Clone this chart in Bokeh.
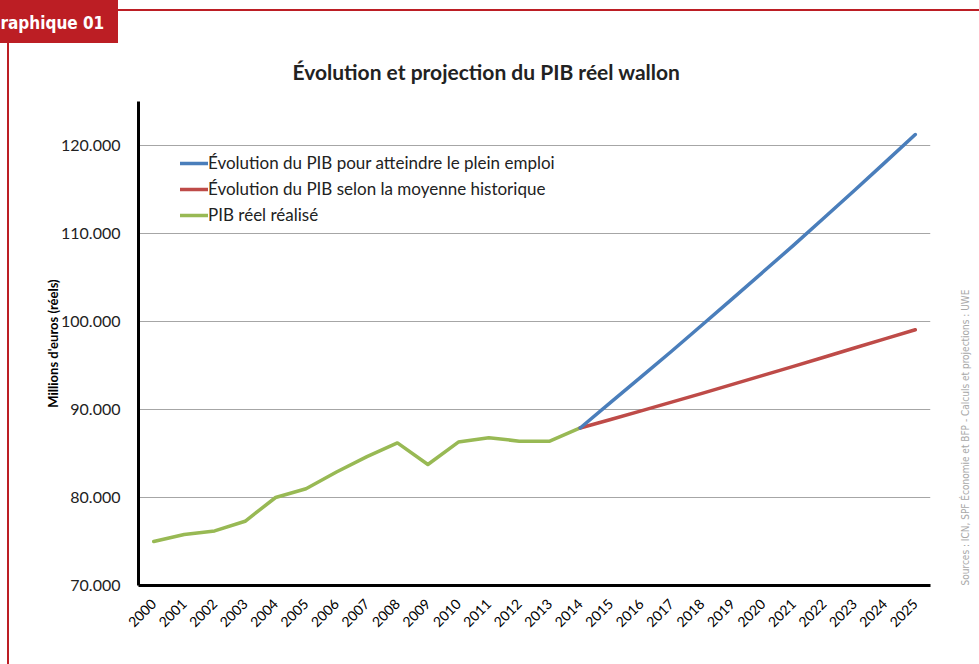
import math
from bokeh.plotting import figure
from bokeh.models import (FactorRange, Range1d, Legend, LegendItem, FixedTicker,
                          Title, LinearAxis, InlineStyleSheet)
from bokeh.embed import file_html
from bokeh.resources import INLINE

# ---------------- data ----------------
years = ["2000", "2001", "2002", "2003", "2004", "2005", "2006", "2007", "2008",
         "2009", "2010", "2011", "2012", "2013", "2014", "2015", "2016", "2017",
         "2018", "2019", "2020", "2021", "2022", "2023", "2024", "2025"]

hist_years = years[:15]          # 2000-2014
proj_years = years[14:]          # 2014-2025

pib_realise = [75000, 75800, 76200, 77300, 80000, 81000, 82900, 84650, 86200,
               83750, 86300, 86800, 86400, 86400, 87900]
pib_plein_emploi = [87900, 90800, 93700, 96620, 99600, 102600, 105620, 108650,
                    111760, 114890, 118050, 121250]
pib_moyenne_hist = [87900, 88870, 89850, 90840, 91840, 92850, 93870, 94900,
                    95940, 96990, 98030, 99060]

ytick_values = [70000, 80000, 90000, 100000, 110000, 120000]
ytick_labels = ["70.000", "80.000", "90.000", "100.000", "110.000", "120.000"]

series_labels = ["Évolution du PIB pour atteindre le plein emploi",
                 "Évolution du PIB selon la moyenne historique",
                 "PIB réel réalisé"]

title_text = "Évolution et projection du PIB réel wallon"
yaxis_title = "Millions d'euros (réels)"
header_text = "raphique 01"
source_text = "Sources : ICN, SPF Économie et BFP - Calculs et projections : UWE"

# ---------------- styling ----------------
FONT = "Lato"
RED = "#BC1E24"
BLUE = "#4A7EBB"
DARKRED = "#BE4B48"
GREEN = "#98B954"

css = """
:host {
  background:
    linear-gradient(#BC1E24, #BC1E24) 0px 0px / 118px 43px no-repeat,
    linear-gradient(#BC1E24, #BC1E24) 118px 9px / 861px 2px no-repeat,
    linear-gradient(#BC1E24, #BC1E24) 7px 43px / 2px 621px no-repeat,
    #FFFFFF;
}
"""

p = figure(width=979, height=664,
           x_range=FactorRange(*years),
           y_range=Range1d(70000, 125000),
           output_backend="svg", toolbar_location=None,
           min_border_left=138, min_border_right=48,
           min_border_top=101, min_border_bottom=79,
           outline_line_color=None,
           background_fill_color="white", border_fill_alpha=0)
p.stylesheets = [InlineStyleSheet(css=css)]

# header text (outermost title slot, top left corner)
p.title.text = header_text
p.title.align = "left"
p.title.offset = -138
p.title.text_font = "DejaVu Sans Condensed"
p.title.text_font_style = "bold"
p.title.text_font_size = "17px"
p.title.text_color = "white"
p.title.standoff = 12

# chart title (title slot nearest to the frame)
p.add_layout(Title(text=title_text, align="left", offset=154,
                   text_font=FONT, text_font_style="bold",
                   text_font_size="21px", text_color="#222222",
                   standoff=36), "above")

# axes
p.yaxis.ticker = FixedTicker(ticks=ytick_values)
p.yaxis.major_label_overrides = dict(zip(ytick_values, ytick_labels))
p.yaxis.axis_line_color = "black"
p.yaxis.axis_line_width = 3
p.yaxis.major_tick_line_color = None
p.yaxis.minor_tick_line_color = None
p.yaxis.major_label_standoff = 12
p.yaxis.major_label_text_font = FONT
p.yaxis.major_label_text_font_size = "16px"
p.yaxis.major_label_text_color = "#222222"
p.yaxis.axis_label = yaxis_title
p.yaxis.axis_label_text_font = FONT
p.yaxis.axis_label_text_font_style = "bold"
p.yaxis.axis_label_text_font_size = "13px"
p.yaxis.axis_label_text_color = "black"
p.yaxis.axis_label_standoff = -3

p.xaxis.axis_line_color = "black"
p.xaxis.axis_line_width = 3
p.xaxis.major_tick_line_color = None
p.xaxis.minor_tick_line_color = None
p.xaxis.major_label_orientation = math.pi / 4
p.xaxis.major_label_standoff = 10
p.xaxis.major_label_text_font = FONT
p.xaxis.major_label_text_font_size = "14px"
p.xaxis.major_label_text_color = "black"

p.xgrid.visible = False
p.ygrid.ticker = FixedTicker(ticks=ytick_values[1:])
p.ygrid.grid_line_color = "#A6A6A6"
p.ygrid.grid_line_width = 1

# source text as the label of an invisible right axis
p.extra_y_ranges = {"src": Range1d(0, 1)}
src_axis = LinearAxis(y_range_name="src", ticker=FixedTicker(ticks=[]),
                      axis_line_color=None, major_tick_line_color=None,
                      minor_tick_line_color=None,
                      major_label_text_font_size="0px",
                      axis_label=source_text,
                      axis_label_text_font="Liberation Sans Narrow, DejaVu Sans Condensed",
                      axis_label_text_font_size="10px",
                      axis_label_text_font_style="normal",
                      axis_label_text_color="#A8A8A8",
                      axis_label_standoff=35)
props = src_axis.properties()
if "axis_label_orientation" in props:
    src_axis.axis_label_orientation = math.pi / 2
if "axis_label_align" in props:
    src_axis.axis_label_align = "start"
p.add_layout(src_axis, "right")

# lines
r_green = p.line(hist_years, pib_realise, line_color=GREEN, line_width=3.5,
                 line_join="round", line_cap="round")
r_red = p.line(proj_years, pib_moyenne_hist, line_color=DARKRED, line_width=3.5,
               line_join="round", line_cap="round")
r_blue = p.line(proj_years, pib_plein_emploi, line_color=BLUE, line_width=3.5,
                line_join="round", line_cap="round")

legend = Legend(items=[LegendItem(label=series_labels[0], renderers=[r_blue]),
                       LegendItem(label=series_labels[1], renderers=[r_red]),
                       LegendItem(label=series_labels[2], renderers=[r_green])],
                location=(42, 360), padding=0, margin=0,
                border_line_color=None, background_fill_alpha=0,
                glyph_width=28, glyph_height=20, label_height=20,
                label_standoff=0, spacing=5,
                label_text_font=FONT, label_text_font_size="17px",
                label_text_color="#222222")
p.add_layout(legend)

open("out.html", "w").write(file_html(p, INLINE))
